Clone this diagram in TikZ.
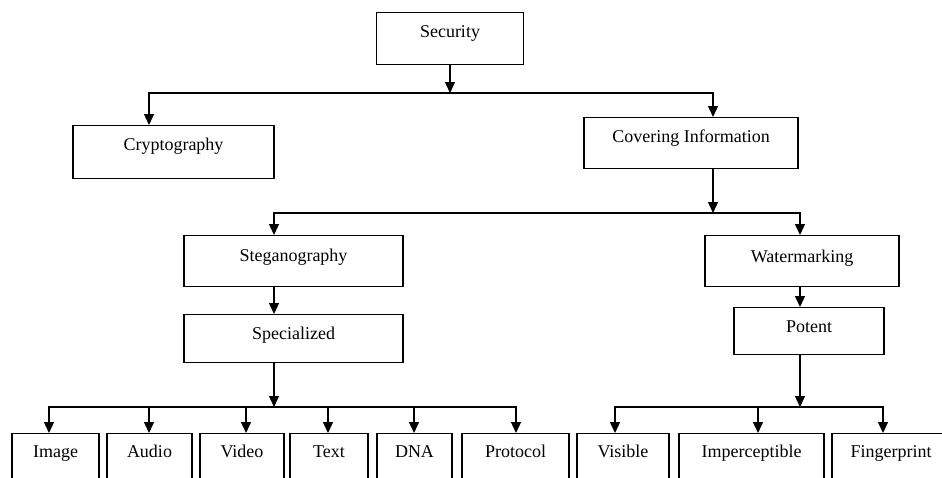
\documentclass[tikz,border=0pt]{standalone}
\usepackage{fontspec}
\setmainfont{Liberation Serif}
\usetikzlibrary{arrows.meta}

\begin{document}
\begin{tikzpicture}[x=1pt,y=-1pt,
  blk/.style={draw,line width=1.3pt,inner sep=0pt,anchor=north,text height=25pt,
    font=\fontsize{18}{20}\selectfont},
  arr/.style={line width=1.3pt,-{Triangle[width=10pt,length=11pt]}},
  lnk/.style={line width=1.3pt,line cap=rect}]
\clip (0,0) rectangle (942,477);

% top levels
\node[blk,minimum width=147pt,text depth=27pt] (sec) at (450,12) {Security};
\node[blk,minimum width=201pt,text depth=28pt] (cry) at (173.5,125) {Cryptography};
\node[blk,minimum width=214pt,text depth=26pt] (cov) at (691,117) {Covering Information};
\node[blk,minimum width=219pt,text height=26pt,text depth=25pt] (ste) at (293.5,235) {Steganography};
\node[blk,minimum width=194pt,text height=27pt,text depth=24pt] (wat) at (802,235) {Watermarking};
\node[blk,minimum width=219pt,text depth=23pt] (spe) at (293.5,314) {Specialized};
\node[blk,minimum width=150pt,text depth=22pt] (pot) at (809,307) {Potent};

% bottom row
\tikzset{leaf/.style={blk,text height=24pt,text depth=50pt}}
\node[leaf,minimum width=87pt] (img) at (55.5,433) {Image};
\node[leaf,minimum width=85pt] (aud) at (149.5,433) {Audio};
\node[leaf,minimum width=84pt] (vid) at (242,433) {Video};
\node[leaf,minimum width=78pt] (txt) at (329,433) {Text};
\node[leaf,minimum width=75pt] (dna) at (414.5,433) {DNA};
\node[leaf,minimum width=107pt] (pro) at (515.5,433) {Protocol};
\node[leaf,minimum width=92pt] (vis) at (623,433) {Visible};
\node[leaf,minimum width=145pt] (imp) at (751.5,433) {Imperceptible};
\node[leaf,minimum width=118pt] (fin) at (891,433) {Fingerprint};

% junctions
\coordinate (b1l) at (149,93);
\coordinate (b1r) at (713,93);
\coordinate (b2l) at (274,213);
\coordinate (b2m) at (713,213);
\coordinate (b2r) at (800,213);
\coordinate (b3l) at (49,407);
\coordinate (b3m) at (274,407);
\coordinate (b3r) at (516,407);
\coordinate (b4l) at (615,407);
\coordinate (b4m) at (800,407);
\coordinate (b4r) at (883,407);

\draw[lnk] (b1l) -- (b1r);
\draw[arr] (sec.south) -- (sec.south |- b1l);
\draw[arr] (b1l) -- (b1l |- cry.north);
\draw[arr] (b1r) -- (b1r |- cov.north);

\draw[lnk] (b2l) -- (b2r);
\draw[arr] (b2m |- cov.south) -- (b2m);
\draw[arr] (b2l) -- (b2l |- ste.north);
\draw[arr] (b2r) -- (b2r |- wat.north);
\draw[arr] (b2l |- ste.south) -- (b2l |- spe.north);
\draw[arr] (b2r |- wat.south) -- (b2r |- pot.north);

\draw[lnk] (b3l) -- (b3r);
\draw[arr] (b3m |- spe.south) -- (b3m);
\foreach \x/\n in {49/img,149/aud,246/vid,328/txt,414/dna,516/pro}
  \draw[arr] (\x,407) -- (\n.north -| \x,0);

\draw[lnk] (b4l) -- (b4r);
\draw[arr] (b4m |- pot.south) -- (b4m);
\foreach \x/\n in {615/vis,758/imp,883/fin}
  \draw[arr] (\x,407) -- (\n.north -| \x,0);
\end{tikzpicture}
\end{document}
